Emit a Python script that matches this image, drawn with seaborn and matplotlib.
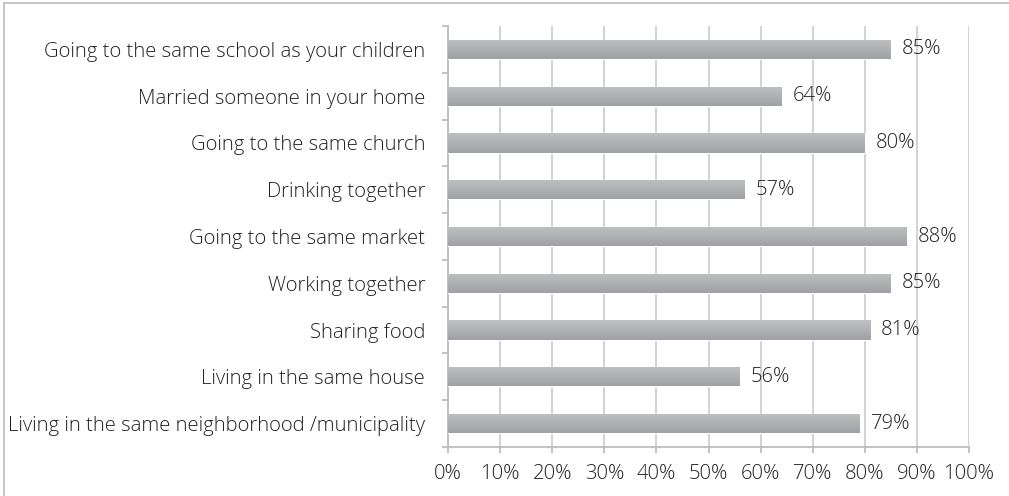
import matplotlib
matplotlib.use("Agg")
import matplotlib.pyplot as plt
import numpy as np
import pandas as pd
import seaborn as sns
from matplotlib.ticker import FixedLocator, PercentFormatter
from matplotlib.colors import LinearSegmentedColormap
from matplotlib.lines import Line2D

activities = [
    "Going to the same school as your children",
    "Married someone in your home",
    "Going to the same church",
    "Drinking together",
    "Going to the same market",
    "Working together",
    "Sharing food",
    "Living in the same house",
    "Living in the same neighborhood /municipality",
]
shares = [85, 64, 80, 57, 88, 85, 81, 56, 79]

df = pd.DataFrame({"activity": activities, "share": shares})

sns.set_theme(style="white")
plt.rcParams["font.family"] = ["Open Sans", "DejaVu Sans"]
plt.rcParams["font.weight"] = "light"

FS = 14.6
TXT = "#222222"

fig = plt.figure(figsize=(10.09, 4.96), dpi=100)
ax = fig.add_axes([448 / 1009, 1 - 447 / 496, (969 - 448) / 1009, (447 - 26) / 496])

sns.barplot(data=df, y="activity", x="share", orient="h", color="#b0b1b3",
            width=0.41, ax=ax, zorder=3)

# vertical gradient fill on each bar
grad = LinearSegmentedColormap.from_list("bar", ["#bfc0c2", "#a0a1a4"])
ramp = np.linspace(0, 1, 64).reshape(-1, 1)
for patch in ax.patches:
    x0, y0 = patch.get_x(), patch.get_y()
    w, h = patch.get_width(), patch.get_height()
    im = ax.imshow(ramp, cmap=grad, aspect="auto", zorder=4,
                   extent=(x0, x0 + w, y0 + h, y0), origin="upper")
    im.set_clip_path(patch)

ax.set_xlim(0, 100)
ax.set_ylim(len(activities) - 0.5, -0.5)
ax.xaxis.set_major_locator(FixedLocator(np.arange(0, 101, 10)))
ax.xaxis.set_major_formatter(PercentFormatter(decimals=0))
ax.grid(axis="x", color="#cfcfcf", linewidth=1.3, zorder=0)
ax.set_axisbelow(True)

grey = "#bdbdbd"
for side in ["top", "right"]:
    ax.spines[side].set_visible(False)
for side in ["left", "bottom"]:
    ax.spines[side].set_color(grey)
    ax.spines[side].set_linewidth(1.3)

ax.set_yticks(np.arange(len(activities)))
ax.set_yticklabels(activities)
ax.yaxis.set_minor_locator(FixedLocator(np.arange(-0.5, len(activities), 1.0)))
ax.tick_params(axis="y", which="major", length=0, pad=16.5, labelsize=FS,
               labelcolor=TXT)
ax.tick_params(axis="y", which="minor", length=4.3, width=1.3, color=grey,
               left=True)
ax.tick_params(axis="x", which="major", length=4, width=1.3, color=grey,
               bottom=True, pad=8.5, labelsize=FS, labelcolor=TXT)
ax.set_xlabel("")
ax.set_ylabel("")

for i, v in enumerate(shares):
    ax.annotate(f"{v}%", xy=(v, i), xytext=(8, 0), textcoords="offset points",
                va="center", ha="left", fontsize=FS, color=TXT, zorder=6)

# outer frame
fig.add_artist(Line2D([4 / 1009, 1.01], [1 - 3 / 496, 1 - 3 / 496],
                      transform=fig.transFigure, color="#c0c0c0", lw=1.3))
fig.add_artist(Line2D([4 / 1009, 4 / 1009], [-0.01, 1 - 3 / 496],
                      transform=fig.transFigure, color="#c0c0c0", lw=1.3))

fig.savefig("out.png", dpi=100, facecolor="white")
